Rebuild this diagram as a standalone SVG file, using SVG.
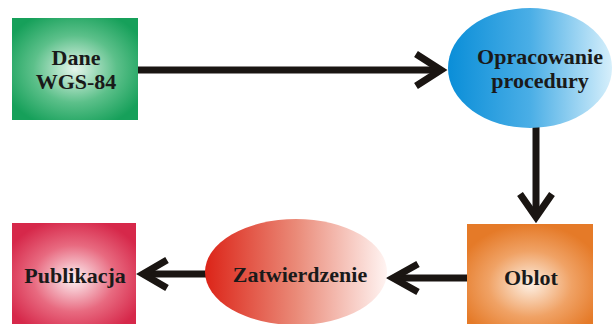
<svg xmlns="http://www.w3.org/2000/svg" width="613" height="324" viewBox="0 0 613 324">
<style>
.lbl{font-family:"Liberation Serif","Times New Roman",serif;font-weight:bold;font-size:22px;fill:#1a1a1a;text-anchor:middle}
.ln{stroke:#1a1512;stroke-width:7;fill:none;stroke-linecap:butt}
.hd{stroke:#1a1512;stroke-width:7;fill:none;stroke-linejoin:miter;stroke-miterlimit:10;stroke-linecap:butt}
</style>
<defs>
<radialGradient id="gGreen" cx="0.5" cy="0.5" r="0.6">
<stop offset="0" stop-color="#e6f6ec"/>
<stop offset="0.55" stop-color="#5cc08a"/>
<stop offset="1" stop-color="#16a05a"/>
</radialGradient>
<radialGradient id="gPink" cx="0.5" cy="0.55" r="0.6">
<stop offset="0" stop-color="#fdf2f4"/>
<stop offset="0.55" stop-color="#e86a80"/>
<stop offset="1" stop-color="#d6284a"/>
</radialGradient>
<radialGradient id="gOrange" cx="0.5" cy="0.6" r="0.6">
<stop offset="0" stop-color="#fdf0e4"/>
<stop offset="0.55" stop-color="#f0a265"/>
<stop offset="1" stop-color="#e57a28"/>
</radialGradient>
<linearGradient id="gBlue" x1="0" y1="0" x2="1" y2="0">
<stop offset="0" stop-color="#0a8ed8"/>
<stop offset="0.5" stop-color="#4aaee6"/>
<stop offset="1" stop-color="#d6effb"/>
</linearGradient>
<linearGradient id="gRed" x1="0" y1="0" x2="1" y2="0">
<stop offset="0" stop-color="#dc2418"/>
<stop offset="0.5" stop-color="#ea8a78"/>
<stop offset="1" stop-color="#fff4f2"/>
</linearGradient>
</defs>
<g id="connectors">
<line class="ln" x1="138" y1="70" x2="440" y2="70"/>
<polyline class="hd" points="416,54 441,70 416,86"/>
<line class="ln" x1="536" y1="127" x2="536" y2="216"/>
<polyline class="hd" points="520,194 536,217 552,194"/>
<line class="ln" x1="467" y1="278" x2="394" y2="278"/>
<polyline class="hd" points="418,264 393,278 418,292"/>
<line class="ln" x1="207" y1="274" x2="144" y2="274"/>
<polyline class="hd" points="167,260 143,274 167,288"/>
</g>
<g id="dane">
<rect x="12" y="18" width="126" height="102" fill="url(#gGreen)"/>
<text class="lbl" x="76" y="65">Dane</text>
<text class="lbl" x="76" y="89">WGS-84</text>
</g>
<g id="opracowanie">
<ellipse cx="530" cy="68" rx="82" ry="60" fill="url(#gBlue)"/>
<text class="lbl" x="540" y="64">Opracowanie</text>
<text class="lbl" x="540" y="88">procedury</text>
</g>
<g id="oblot">
<rect x="467" y="224" width="126" height="100" fill="url(#gOrange)"/>
<text class="lbl" x="531" y="285">Oblot</text>
</g>
<g id="zatwierdzenie">
<ellipse cx="296" cy="272" rx="91" ry="53" fill="url(#gRed)"/>
<text class="lbl" x="300" y="282">Zatwierdzenie</text>
</g>
<g id="publikacja">
<rect x="12" y="223" width="124" height="101" fill="url(#gPink)"/>
<text class="lbl" x="75" y="283">Publikacja</text>
</g>
</svg>
